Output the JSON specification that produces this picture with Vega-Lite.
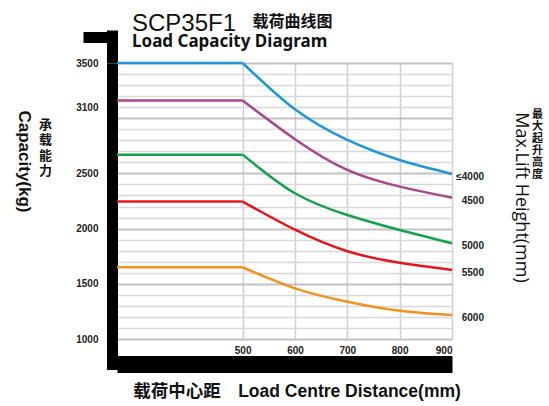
{
  "$schema": "https://vega.github.io/schema/vega-lite/v6.json",
  "width": 335,
  "height": 276,
  "autosize": {"type": "none"},
  "padding": {"left": 117, "top": 63, "right": 97, "bottom": 67},
  "background": "white",
  "title": {
    "text": "SCP35F1",
    "subtitle": "Load Capacity Diagram",
    "anchor": "start",
    "frame": "group",
    "dx": 15,
    "dy": 36,
    "offset": 0,
    "font": "Liberation Sans",
    "fontSize": 24,
    "fontWeight": "normal",
    "color": "#111",
    "subtitleFont": "Noto Sans",
    "subtitleFontSize": 17,
    "subtitleFontWeight": "bold",
    "subtitleColor": "#111",
    "subtitlePadding": -2
  },
  "data": {
    "values": [
      {"mast": "≤4000", "part": "flat", "dist": 260, "cap": 3500},
      {"mast": "≤4000", "part": "flat", "dist": 500, "cap": 3500},
      {"mast": "≤4000", "part": "curve", "dist": 500, "cap": 3500},
      {"mast": "≤4000", "part": "curve", "dist": 600, "cap": 3080},
      {"mast": "≤4000", "part": "curve", "dist": 700, "cap": 2803},
      {"mast": "≤4000", "part": "curve", "dist": 800, "cap": 2621},
      {"mast": "≤4000", "part": "curve", "dist": 900, "cap": 2495},
      {"mast": "4500", "part": "flat", "dist": 260, "cap": 3160},
      {"mast": "4500", "part": "flat", "dist": 500, "cap": 3160},
      {"mast": "4500", "part": "curve", "dist": 500, "cap": 3160},
      {"mast": "4500", "part": "curve", "dist": 600, "cap": 2810},
      {"mast": "4500", "part": "curve", "dist": 700, "cap": 2531},
      {"mast": "4500", "part": "curve", "dist": 800, "cap": 2380},
      {"mast": "4500", "part": "curve", "dist": 900, "cap": 2280},
      {"mast": "5000", "part": "flat", "dist": 260, "cap": 2670},
      {"mast": "5000", "part": "flat", "dist": 500, "cap": 2670},
      {"mast": "5000", "part": "curve", "dist": 500, "cap": 2670},
      {"mast": "5000", "part": "curve", "dist": 600, "cap": 2320},
      {"mast": "5000", "part": "curve", "dist": 700, "cap": 2123},
      {"mast": "5000", "part": "curve", "dist": 800, "cap": 1987},
      {"mast": "5000", "part": "curve", "dist": 900, "cap": 1867},
      {"mast": "5500", "part": "flat", "dist": 260, "cap": 2245},
      {"mast": "5500", "part": "flat", "dist": 500, "cap": 2245},
      {"mast": "5500", "part": "curve", "dist": 500, "cap": 2245},
      {"mast": "5500", "part": "curve", "dist": 600, "cap": 1990},
      {"mast": "5500", "part": "curve", "dist": 700, "cap": 1795},
      {"mast": "5500", "part": "curve", "dist": 800, "cap": 1690},
      {"mast": "5500", "part": "curve", "dist": 900, "cap": 1625},
      {"mast": "6000", "part": "flat", "dist": 260, "cap": 1650},
      {"mast": "6000", "part": "flat", "dist": 500, "cap": 1650},
      {"mast": "6000", "part": "curve", "dist": 500, "cap": 1650},
      {"mast": "6000", "part": "curve", "dist": 600, "cap": 1459},
      {"mast": "6000", "part": "curve", "dist": 700, "cap": 1338},
      {"mast": "6000", "part": "curve", "dist": 800, "cap": 1256},
      {"mast": "6000", "part": "curve", "dist": 900, "cap": 1217}
    ]
  },
  "config": {
    "view": {"stroke": null},
    "axis": {
      "labelFont": "Liberation Sans",
      "labelFontWeight": "bold",
      "labelFontSize": 10,
      "labelColor": "#222",
      "titleColor": "#111"
    }
  },
  "resolve": {"axis": {"x": "independent", "y": "independent"}},
  "layer": [
    {
      "transform": [{"filter": "datum.part === 'flat'"}],
      "mark": {"type": "line", "strokeWidth": 2.5, "interpolate": "linear"},
      "encoding": {
        "x": {
          "field": "dist", "type": "quantitative",
          "scale": {"domain": [260, 900], "nice": false, "zero": false},
          "axis": {
            "orient": "bottom",
            "values": [500, 600, 700, 800, 900],
            "format": "d",
            "grid": true, "gridColor": "#d0d0d0", "gridWidth": 1.5,
            "ticks": false, "domain": false, "labelPadding": 6,
            "title": ["最", "大", "起", "升", "高", "度"],
            "titleX": 420, "titleY": -231, "titleAlign": "center", "titleBaseline": "top", "titleAngle": 0,
            "titleFont": "Noto Sans CJK SC", "titleFontSize": 11, "titleFontWeight": "bold", "titleLineHeight": 12
          }
        },
        "y": {
          "field": "cap", "type": "quantitative",
          "scale": {"domain": [1000, 3500], "nice": false, "zero": false},
          "axis": {
            "orient": "left", "offset": 5,
            "values": [1000, 1100, 1200, 1300, 1400, 1500, 1600, 1700, 1800, 1900, 2000, 2100, 2200, 2300, 2400, 2500, 2600, 2700, 2800, 2900, 3000, 3100, 3200, 3300, 3400, 3500],
            "format": "d",
            "labelExpr": "indexof([1000, 1500, 2000, 2500, 3100, 3500], datum.value) >= 0 ? datum.label : ''",
            "labelOverlap": false, "labelPadding": 14,
            "ticks": false,
            "domain": true, "domainColor": "#000", "domainWidth": 11,
            "grid": true,
            "gridColor": {"condition": {"test": "datum.value % 500 === 0", "value": "#c2c2c2"}, "value": "#d8d8d8"},
            "gridWidth": {"condition": {"test": "datum.value % 500 === 0", "value": 2}, "value": 1.3},
            "title": "Capacity(kg)",
            "titleX": -89, "titleY": 98, "titleAngle": 90, "titleAlign": "center", "titleBaseline": "middle",
            "titleFont": "Liberation Sans", "titleFontSize": 17, "titleFontWeight": "bold"
          }
        },
        "color": {
          "field": "mast", "type": "nominal",
          "scale": {"domain": ["≤4000", "4500", "5000", "5500", "6000"], "range": ["#1f97d6", "#a6478f", "#16a04c", "#e3161f", "#f29222"]},
          "legend": null
        }
      }
    },
    {
      "transform": [{"filter": "datum.part === 'curve'"}],
      "mark": {"type": "line", "strokeWidth": 2.5, "interpolate": "natural"},
      "encoding": {
        "x": {
          "field": "dist", "type": "quantitative",
          "scale": {"domain": [260, 900], "nice": false, "zero": false},
          "axis": {
            "orient": "bottom", "offset": 25,
            "values": [260], "labels": false, "grid": false,
            "domain": true, "domainColor": "#000", "domainWidth": 17,
            "ticks": true, "tickColor": "#000", "tickWidth": 11, "tickSize": -25, "tickCap": "square", "tickOffset": -5,
            "title": "载荷中心距\u3000Load Centre Distance(mm)",
            "titleX": 179.5, "titleY": 27.7, "titleAlign": "center", "titleBaseline": "middle",
            "titleFont": "Liberation Sans, Noto Sans CJK SC", "titleFontSize": 17.5, "titleFontWeight": "bold"
          }
        },
        "y": {
          "field": "cap", "type": "quantitative",
          "scale": {"domain": [1000, 3500], "nice": false, "zero": false},
          "axis": {
            "orient": "left", "labels": false, "domain": false, "grid": false,
            "values": [3500],
            "ticks": true, "tickColor": "#000", "tickWidth": 11, "tickSize": 34, "tickOffset": -26.5,
            "title": ["承", "载", "能", "力"],
            "titleX": -72, "titleY": 55, "titleAngle": 0, "titleAlign": "center", "titleBaseline": "top",
            "titleFont": "Noto Sans CJK SC", "titleFontSize": 13, "titleFontWeight": "bold", "titleLineHeight": 15.5
          }
        },
        "color": {
          "field": "mast", "type": "nominal",
          "scale": {"domain": ["≤4000", "4500", "5000", "5500", "6000"], "range": ["#1f97d6", "#a6478f", "#16a04c", "#e3161f", "#f29222"]},
          "legend": null
        }
      }
    },
    {
      "transform": [{"filter": "datum.part === 'curve' && datum.dist === 900"}],
      "mark": {"type": "text", "align": "right", "baseline": "middle", "dx": 32, "dy": 3, "font": "Liberation Sans", "fontSize": 10, "fontWeight": "bold", "color": "#222"},
      "encoding": {
        "x": {
          "field": "dist", "type": "quantitative",
          "scale": {"domain": [260, 900], "nice": false, "zero": false},
          "axis": {
            "orient": "top", "values": [260], "labels": false, "grid": false, "domain": false,
            "ticks": true, "tickColor": "#000", "tickWidth": 11, "tickSize": 33, "tickOffset": -5,
            "title": "载荷曲线图",
            "titleX": 135, "titleY": -41.3, "titleAlign": "left", "titleBaseline": "middle",
            "titleFont": "Noto Sans CJK SC", "titleFontSize": 16, "titleFontWeight": "bold"
          }
        },
        "y": {
          "field": "cap", "type": "quantitative",
          "scale": {"domain": [1000, 3500], "nice": false, "zero": false},
          "axis": {
            "orient": "right", "labels": false, "ticks": false, "domain": false, "grid": false,
            "title": "Max.Lift Height(mm)",
            "titleX": 68, "titleY": 134, "titleAngle": 90, "titleAlign": "center", "titleBaseline": "middle",
            "titleFont": "Open Sans", "titleFontSize": 18, "titleFontWeight": "normal"
          }
        },
        "text": {"field": "mast"}
      }
    }
  ]
}
